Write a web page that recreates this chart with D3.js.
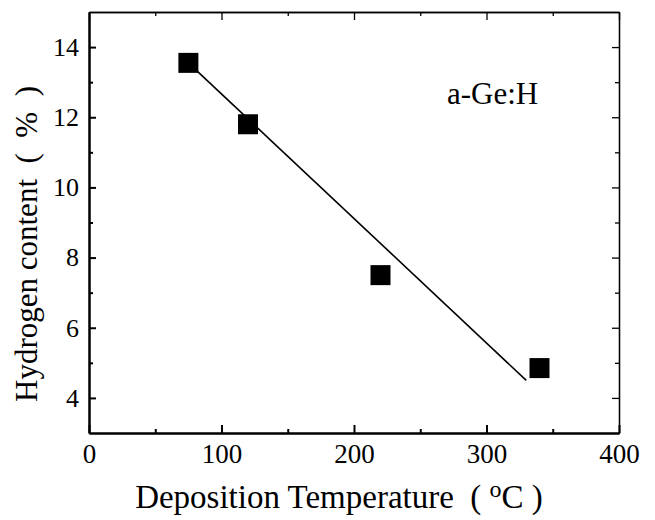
<!DOCTYPE html>
<html><head><meta charset="utf-8">
<script src="https://cdn.jsdelivr.net/npm/d3@7"></script>
<style>body{margin:0;background:#fff}svg{display:block}text{font-family:"Liberation Serif","DejaVu Serif",serif;fill:#000}</style>
</head><body><svg id="c" width="655" height="520"></svg>
<script>
const temps = [75, 120, 220, 340];
const hydrogen = [13.55, 11.8, 7.5, 4.85];
const fitTemps = [75, 330];
const fitHydrogen = [13.55, 4.5];
const xTicks = [0, 100, 200, 300, 400];
const xMinor = [50, 150, 250, 350];
const yTicks = [4, 6, 8, 10, 12, 14];
const yMinor = [5, 7, 9, 11, 13];
const xTitle = "Deposition Temperature";
const yTitle = "Hydrogen content\u00a0 (\u00a0 %\u00a0 )";
const note = "a-Ge:H";

(function () {
const svg = d3.select("#c");
const L = 89, R = 619, T = 12, B = 433;
const x = d3.scaleLinear().domain([0, 400]).range([L, R]);
const y = d3.scaleLinear().domain([3, 15]).range([B, T]);

const axBottom = d3.axisBottom(x).tickValues(xTicks).tickSizeInner(-8).tickSizeOuter(0).tickPadding(11);
const axBottomMinor = d3.axisBottom(x).tickValues(xMinor).tickSizeInner(-4).tickSizeOuter(0).tickFormat("");
const axTop = d3.axisTop(x).tickValues(xTicks).tickSizeInner(-8).tickSizeOuter(0).tickFormat("");
const axTopMinor = d3.axisTop(x).tickValues(xMinor).tickSizeInner(-4).tickSizeOuter(0).tickFormat("");
const axLeft = d3.axisLeft(y).tickValues(yTicks).tickSizeInner(-7).tickSizeOuter(0).tickPadding(10);
const axLeftMinor = d3.axisLeft(y).tickValues(yMinor).tickSizeInner(-4).tickSizeOuter(0).tickFormat("");
const axRight = d3.axisRight(y).tickValues(yTicks).tickSizeInner(-7).tickSizeOuter(0).tickFormat("");
const axRightMinor = d3.axisRight(y).tickValues(yMinor).tickSizeInner(-4).tickSizeOuter(0).tickFormat("");

function put(ax, tr, w, fs) {
  const g = svg.append("g").attr("transform", tr).call(ax);
  g.selectAll("path,line").attr("stroke", "#000").attr("stroke-width", w);
  g.selectAll("text").style("font-size", fs + "px").attr("font-family", '"Liberation Serif",serif');
  return g;
}
put(axBottom, `translate(0,${B})`, 2, 27);
put(axBottomMinor, `translate(0,${B})`, 2, 27);
put(axTop, `translate(0,${T})`, 1.3, 27);
put(axTopMinor, `translate(0,${T})`, 1.3, 27);
put(axLeft, `translate(${L},0)`, 2, 26);
put(axLeftMinor, `translate(${L},0)`, 2, 26);
put(axRight, `translate(${R},0)`, 1.3, 26);
put(axRightMinor, `translate(${R},0)`, 1.3, 26);

const line = d3.line().x(d => x(d[0])).y(d => y(d[1]));
svg.append("path").datum(d3.zip(fitTemps, fitHydrogen))
  .attr("d", line).attr("fill", "none").attr("stroke", "#000").attr("stroke-width", 1.6);

const s = 20;
svg.selectAll("rect.pt").data(d3.zip(temps, hydrogen)).join("rect")
  .attr("class", "pt")
  .attr("x", d => x(d[0]) - s / 2).attr("y", d => y(d[1]) - s / 2)
  .attr("width", s).attr("height", s).attr("fill", "#000");

svg.append("text").attr("x", 447).attr("y", 104).style("font-size", "31px").text(note);

const xt = svg.append("text").attr("x", 339).attr("y", 508).attr("text-anchor", "middle").style("font-size", "33px");
xt.append("tspan").text(xTitle + "\u00a0 ( ");
xt.append("tspan").attr("dy", -11).style("font-size", "24px").text("o");
xt.append("tspan").attr("dy", 11).text("C )");

svg.append("text").attr("transform", "translate(37,244) rotate(-90)")
  .attr("text-anchor", "middle").style("font-size", "31px").text(yTitle);
})();
</script></body></html>
